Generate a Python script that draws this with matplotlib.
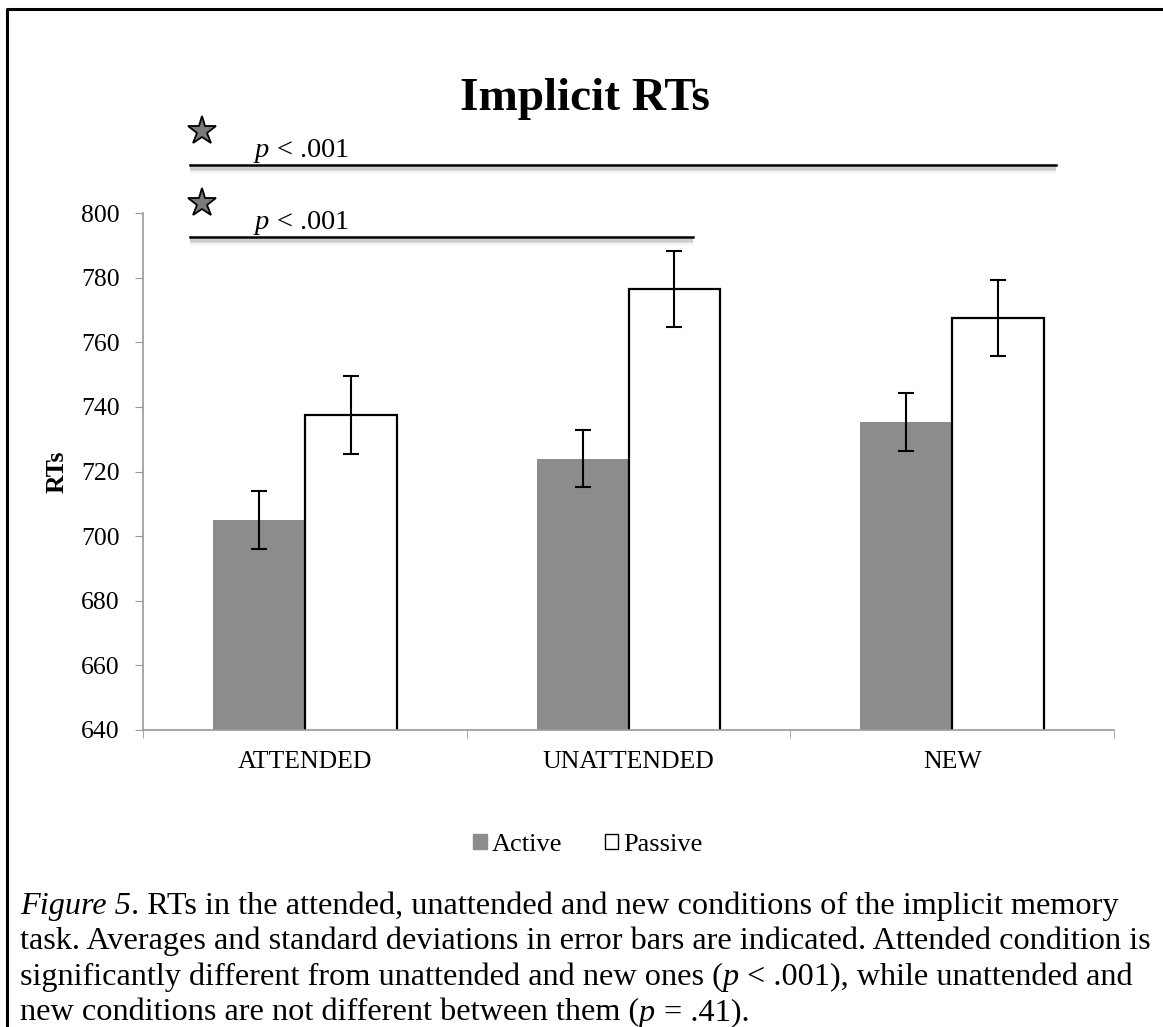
import numpy as np
import matplotlib.pyplot as plt
from matplotlib.patches import Patch
from matplotlib.lines import Line2D

plt.rcParams['font.family'] = ['Liberation Serif', 'DejaVu Serif']
plt.rcParams['mathtext.fontset'] = 'custom'
plt.rcParams['mathtext.rm'] = 'Liberation Serif'
plt.rcParams['mathtext.it'] = 'Liberation Serif:italic'

# data
conditions = ['ATTENDED', 'UNATTENDED', 'NEW']
active = [705.0, 723.9, 735.3]
active_err = [9.0, 8.8, 9.0]
passive = [737.5, 776.5, 767.5]
passive_err = [12.0, 11.8, 11.9]
yticks = [640, 660, 680, 700, 720, 740, 760, 780, 800]

W, H = 1163, 1027
fig = plt.figure(figsize=(W / 100, H / 100), dpi=100)
ax = fig.add_axes([143/W, 1 - 730/H, (1114 - 143)/W, (730 - 213)/H])

x = np.arange(len(conditions))
w = 0.284
ekw = dict(ecolor='black', elinewidth=1.5, capthick=1.5)
ax.bar(x - w/2, active, w, yerr=active_err, color='#8c8c8c', capsize=5.8,
       error_kw=ekw, label='Active', zorder=2)
ax.bar(x + w/2, passive, w, yerr=passive_err, color='white', edgecolor='black',
       linewidth=1.6, capsize=5.8, error_kw=ekw, label='Passive', zorder=2)

ax.set_xlim(-0.5, 2.5)
ax.set_ylim(640, 800)
ax.set_yticks(yticks)
ax.set_xticks(x)
ax.set_xticklabels(conditions, fontsize=18.5)
ax.set_xticks([-0.5, 0.5, 1.5, 2.5], minor=True)
ax.tick_params(axis='x', which='major', length=0, pad=15)
ax.tick_params(axis='x', which='minor', length=6, color='#999999', direction='out')
ax.tick_params(axis='y', length=6, color='#999999', direction='out', pad=11, labelsize=18.5)
for s in ['top', 'right']:
    ax.spines[s].set_visible(False)
for s in ['left', 'bottom']:
    ax.spines[s].set_color('#999999')
    ax.spines[s].set_linewidth(1.2)
ax.set_ylabel('RTs', fontsize=18.5, fontweight='bold', labelpad=9)

# significance annotations: (line end x, line y, text baseline y, star y)
brackets = [(2.32, 814.9, 817.3, 825.4), (1.20, 792.6, 795.0, 803.1)]
for xend, ly, ty, sy in brackets:
    for off, a in [(0.9, 0.25), (1.4, 0.15), (1.9, 0.08)]:
        ax.plot([-0.354, xend], [ly - off, ly - off], color='gray', lw=3,
                alpha=a, clip_on=False, solid_capstyle='butt')
    ax.plot([-0.354, xend], [ly, ly], color='black', lw=1.8, clip_on=False)
    ax.text(-0.16, ty, r'$\mathit{p}$ < .001', fontsize=20.5, va='baseline',
            ha='left', clip_on=False)
    ax.plot([-0.318], [sy], marker='*', markersize=21, mfc='#7a7a7a',
            mec='black', mew=1.3, clip_on=False)

fig.text(585/W, 1 - 110/H, 'Implicit RTs', fontsize=34, fontweight='bold',
         ha='center', va='baseline')

handles = [Patch(facecolor='#8c8c8c', edgecolor='#8c8c8c', label='Active'),
           Patch(facecolor='white', edgecolor='black', label='Passive')]
fig.legend(handles=handles, loc='center', bbox_to_anchor=(588/W, 1 - 845/H),
           ncol=2, frameon=False, fontsize=19, handlelength=0.5,
           handleheight=0.5, handletextpad=0.2, columnspacing=1.6)

# caption, written piece by piece so the italic parts sit inline
fs = 23.2
r = fig.canvas.get_renderer()


def text_width(s, style):
    t = fig.text(0, 0, s, fontsize=fs, fontstyle=style)
    wd = t.get_window_extent(renderer=r).width
    t.remove()
    return wd


space = text_width('x x', 'normal') - text_width('xx', 'normal')
SP = None
caption = [
    [('Figure 5', 'italic'),
     ('. RTs in the attended, unattended and new conditions of the implicit memory', 'normal')],
    [('task. Averages and standard deviations in error bars are indicated. Attended condition is', 'normal')],
    [('significantly different from unattended and new ones (', 'normal'), ('p', 'italic'), SP,
     ('< .001), while unattended and', 'normal')],
    [('new conditions are not different between them (', 'normal'), ('p', 'italic'), SP,
     ('= .41).', 'normal')],
]
for i, parts in enumerate(caption):
    xpix = 20
    ypos = 1 - (914 + 35.5*i)/H
    for part in parts:
        if part is None:
            xpix += space
            continue
        s, style = part
        fig.text(xpix/W, ypos, s, fontsize=fs, fontstyle=style, ha='left', va='baseline')
        xpix += text_width(s, style)

# page border (left and top edges)
fig.add_artist(Line2D([7/W, 7/W, 1.0], [0, 1 - 9/H, 1 - 9/H],
                      transform=fig.transFigure, color='black', lw=2.2))

fig.savefig('out.png', dpi=100)
